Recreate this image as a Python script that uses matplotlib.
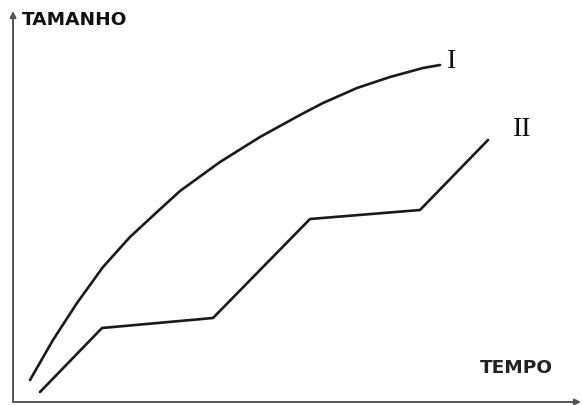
import matplotlib.pyplot as plt

# curve I (tempo, tamanho)
x1 = [17, 40, 64, 90, 117, 144, 167, 207, 247, 287, 310, 344, 377, 410, 427]
y1 = [22, 62, 99, 135, 165, 190, 211, 240, 265, 287, 299, 314, 325, 334, 337]

# curve II (piecewise)
x2 = [27, 89, 200, 297, 407, 475]
y2 = [10, 74, 84, 183, 192, 262]

fig = plt.figure(figsize=(5.82, 4.05), dpi=100)
ax = fig.add_axes([0, 0, 1, 1])
ax.set_xlim(-13, 569)
ax.set_ylim(-3, 402)
ax.axis('off')

ax.plot(x1, y1, color='#1a1a1a', linewidth=1.9, solid_capstyle='round', solid_joinstyle='round')
ax.plot(x2, y2, color='#1a1a1a', linewidth=1.9, solid_capstyle='round', solid_joinstyle='round')

# axes with arrow heads
axcol = '#555555'
ax.annotate('', xy=(0, 391), xytext=(0, 0),
            arrowprops=dict(arrowstyle='-|>', color=axcol, lw=1.4, mutation_scale=9,
                            shrinkA=0, shrinkB=0))
ax.annotate('', xy=(568, 0), xytext=(0, 0),
            arrowprops=dict(arrowstyle='-|>', color=axcol, lw=1.4, mutation_scale=9,
                            shrinkA=0, shrinkB=0))

ax.text(9, 382, 'TAMANHO', fontsize=13.3, fontweight='bold', family='DejaVu Sans',
        color='#111111', va='center', ha='left')
ax.text(467, 34, 'TEMPO', fontsize=13.3, fontweight='bold', family='DejaVu Sans',
        color='#222222', va='center', ha='left')

ax.text(439, 341, 'I', fontsize=20, family='Liberation Serif', color='#111111',
        va='center', ha='center')
ax.text(509, 273, 'II', fontsize=20, family='Liberation Serif', color='#111111',
        va='center', ha='center')

plt.savefig('out.png', dpi=100)
